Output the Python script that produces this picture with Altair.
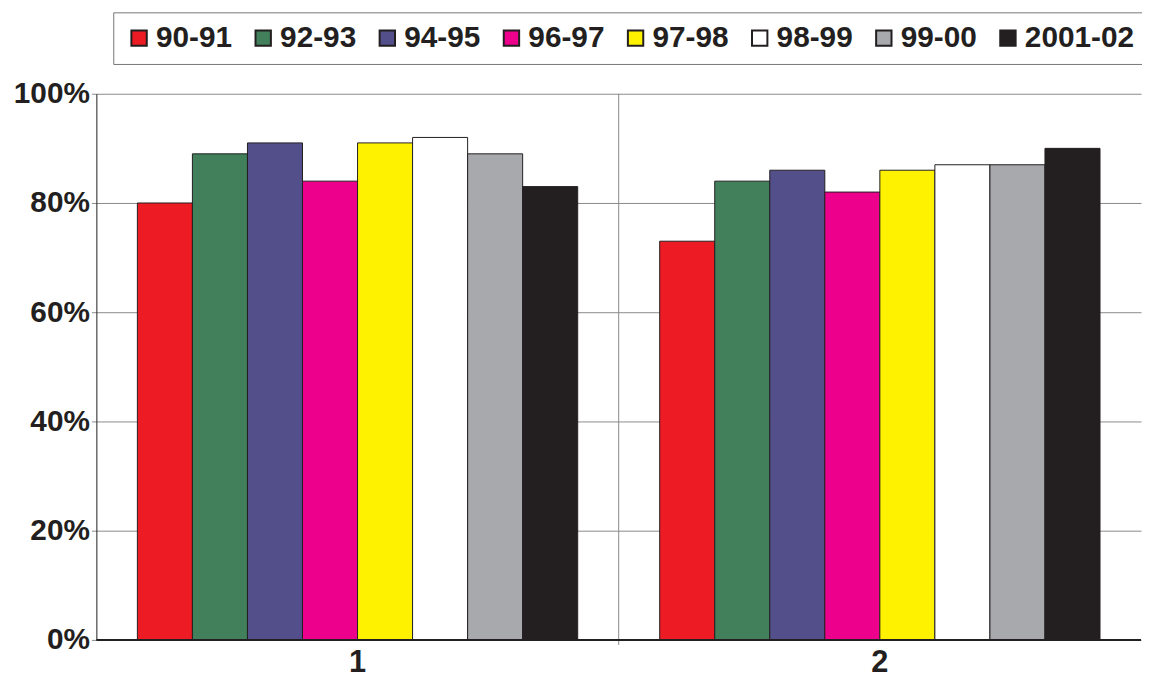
import altair as alt
import pandas as pd

categories = ["1", "2"]
series = ["90-91", "92-93", "94-95", "96-97", "97-98", "98-99", "99-00", "2001-02"]
values_1 = [0.80, 0.89, 0.91, 0.84, 0.91, 0.92, 0.89, 0.83]
values_2 = [0.73, 0.84, 0.86, 0.82, 0.86, 0.87, 0.87, 0.90]
colors = ["#ED1C24", "#41805A", "#524F8A", "#EC008C", "#FFF200", "#FFFFFF", "#A7A9AC", "#231F20"]
y_ticks = [0, 0.2, 0.4, 0.6, 0.8, 1.0]

rows = []
for cat, vals in zip(categories, [values_1, values_2]):
    for s, v in zip(series, vals):
        rows.append({"cat": cat, "series": s, "value": v})
df = pd.DataFrame(rows)

W, H = 1052, 550
FONT = "Liberation Sans"
DARK = "#231F20"
GRID = "#8A8A8A"

x_enc = alt.X("cat:N", sort=categories,
              scale=alt.Scale(paddingInner=0, paddingOuter=0),
              axis=alt.Axis(title=None, labelAngle=0, ticks=False, domain=False,
                            labelFont=FONT, labelFontSize=31, labelFontWeight="bold",
                            labelColor=DARK, labelPadding=8, grid=False))

bars = alt.Chart(df).mark_bar(stroke=DARK, strokeWidth=1).encode(
    x=x_enc,
    xOffset=alt.XOffset("series:N", sort=series,
                        scale=alt.Scale(paddingInner=0, paddingOuter=0.745)),
    y=alt.Y("value:Q", scale=alt.Scale(domain=[0, 1], nice=False),
            axis=alt.Axis(title=None, values=y_ticks, format=".0%",
                          labelFont=FONT, labelFontSize=30, labelFontWeight="bold",
                          labelColor=DARK, labelPadding=2, tickSize=5, tickColor=GRID,
                          domainColor=DARK, gridColor=GRID, grid=True, gridWidth=1)),
    color=alt.Color("series:N", sort=series,
                    scale=alt.Scale(domain=series, range=colors),
                    legend=alt.Legend(title=None, orient="none", legendX=17, legendY=-82,
                                      direction="horizontal", columns=8, gridAlign="each",
                                      symbolType="square", symbolSize=240,
                                      symbolStrokeColor=DARK, symbolStrokeWidth=2,
                                      symbolOpacity=1,
                                      labelFont=FONT, labelFontSize=30, labelFontWeight="bold",
                                      labelColor=DARK, labelOffset=2, columnPadding=16,
                                      fillColor="white", strokeColor="#777777",
                                      padding=11, labelLimit=300)),
)

sep = alt.Chart(pd.DataFrame({"cat": ["2"]})).mark_rule(color=GRID, strokeWidth=1).encode(
    x=alt.X("cat:N", sort=categories, bandPosition=0),
    y=alt.value(0),
    y2=alt.value(H + 5),
)

base = alt.Chart(pd.DataFrame({"v": [0]})).mark_rule(color=DARK, strokeWidth=2).encode(
    x=alt.value(0), x2=alt.value(W), y=alt.value(H)
)

chart = alt.layer(bars, sep, base).properties(
    width=W, height=H,
    autosize=alt.AutoSizeParams(type="none"),
    padding={"left": 89, "top": 84, "right": 1, "bottom": 36},
).configure_view(stroke=None).configure_axis(domainWidth=1)

chart.save("out.html", embed_options={"renderer": "svg", "actions": False})
